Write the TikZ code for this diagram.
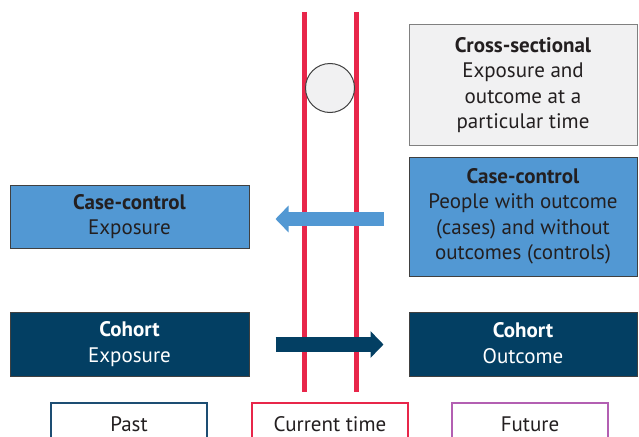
\documentclass[tikz,border=0pt]{standalone}
\usepackage{fontspec}
\setmainfont{PT Sans}
\usetikzlibrary{arrows.meta,calc}

\definecolor{lightblue}{HTML}{5298D3}
\definecolor{navy}{HTML}{033F63}
\definecolor{nowred}{HTML}{E8264A}
\definecolor{pastblue}{HTML}{1D4E73}
\definecolor{futurepurple}{HTML}{B35FB2}
\definecolor{ink}{HTML}{231F20}
\definecolor{paper}{HTML}{F1F1F2}

% strut that sets the vertical placement of every text block
\newcommand\capstrut{\rule[-2pt]{0pt}{22.7pt}}

\tikzset{
  txt/.style={align=center, font=\fontsize{21}{25.5}\selectfont, text=ink, inner sep=0pt,
    execute at begin node=\capstrut, execute at end node=\capstrut},
  studybox/.style={txt, draw=#1, line width=1pt},
  timebox/.style={txt, draw=#1, line width=2pt, fill=white,
    minimum width=156pt, minimum height=38pt},
  timeline/.style={nowred, line width=5pt},
  blockarrow/.style={line width=14.5pt, draw=#1,
    -{Triangle[length=13pt,width=26pt,fill=#1]}}
}

\begin{document}
\begin{tikzpicture}[x=1pt,y=-1pt]
\useasboundingbox (0,0) rectangle (639,436);
\clip (0,0) rectangle (639,436);

% the present moment: two vertical lines with a marker
\draw[timeline] (304,12) -- (304,392);
\draw[timeline] (356,12) -- (356,392);
\node[circle, draw=black!75, fill=paper, line width=1pt, minimum size=49pt, inner sep=0pt] (now) at (330,88) {};

% study designs on the right (at or after the present)
\node[studybox=black!50, fill=paper, minimum width=228pt, minimum height=120pt] (cross) at (523,85)
  {\textbf{Cross-sectional}\\Exposure and\\outcome at a\\particular time};
\node[studybox=black!75, fill=lightblue, minimum width=228pt, minimum height=119pt] (ccR) at (523,216.5)
  {\textbf{Case-control}\\People with outcome\\(cases) and without\\outcomes (controls)};
\node[studybox=black!75, fill=navy, text=white, minimum width=228pt, minimum height=64pt] (coR) at (523,344)
  {\textbf{Cohort}\\Outcome};

% study designs on the left (the past)
\node[studybox=black!75, fill=lightblue, minimum width=239pt, minimum height=63pt] (ccL) at (129.5,216.5)
  {\textbf{Case-control}\\Exposure};
\node[studybox=black!75, fill=navy, text=white, minimum width=239pt, minimum height=64pt] (coL) at (129.5,344)
  {\textbf{Cohort}\\Exposure};

% direction of each design
\coordinate (ccTail) at ($(ccR.west)+(-25,2.5)$);
\coordinate (ccTip)  at ($(ccL.east)+(26,2.5)$);
\draw[blockarrow=lightblue] (ccTail) -- (ccTip);
\coordinate (coTail) at ($(coL.east)+(26,0.5)$);
\coordinate (coTip)  at ($(coR.west)+(-25,0.5)$);
\draw[blockarrow=navy] (coTail) -- (coTip);

% time axis labels
\node[timebox=pastblue] (past) at (129,422) {Past};
\node[timebox=nowred] (current) at (330,422) {Current time};
\node[timebox=futurepurple] (future) at (530,422) {Future};
\end{tikzpicture}
\end{document}
